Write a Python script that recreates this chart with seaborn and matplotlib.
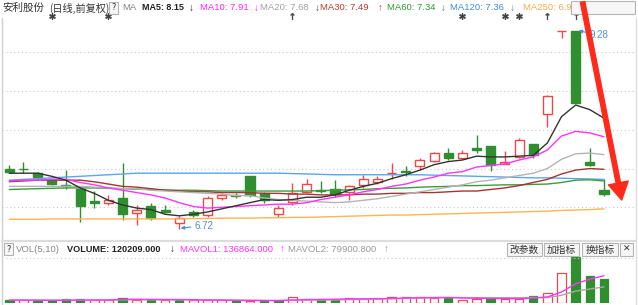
import numpy as np
import pandas as pd
import matplotlib
matplotlib.use("Agg")
import matplotlib.pyplot as plt
import seaborn as sns
from matplotlib.patches import FancyArrowPatch, Rectangle
from matplotlib.lines import Line2D

# ---------------- data ----------------
opens = [7.49, 7.495, 7.447, 7.36, 7.29, 7.23, 7.08, 7.05, 7.12, 6.92,
         7.02, 6.96, 6.80, 6.94, 6.90, 7.12, 7.16, 7.40, 7.18, 6.91,
         7.07, 7.20, 7.22, 7.23, 7.20, 7.29, 7.33, 7.44, 7.47, 7.53,
         7.60, 7.70, 7.63, 7.77, 7.79, 7.56, 7.65, 7.82, 8.21, 9.28,
         9.28, 7.58, 7.22]
closes = [7.455, 7.49, 7.395, 7.30, 7.27, 7.02, 7.06, 7.094, 6.91, 6.97,
          6.86, 6.94, 6.86, 6.90, 7.12, 7.16, 7.145, 7.16, 7.094, 6.99,
          7.18, 7.30, 7.21, 7.17, 7.28, 7.37, 7.37, 7.445, 7.46, 7.61,
          7.70, 7.63, 7.70, 7.74, 7.54, 7.59, 7.87, 7.67, 8.44, 9.28,
          8.35, 7.55, 7.17]
highs = [7.55, 7.59, 7.46, 7.37, 7.48, 7.23, 7.21, 7.16, 7.57, 7.03,
         7.05, 7.03, 6.89, 6.97, 7.15, 7.19, 7.19, 7.40, 7.20, 7.03,
         7.31, 7.36, 7.34, 7.35, 7.29, 7.42, 7.41, 7.57, 7.53, 7.63,
         7.72, 7.76, 7.74, 7.93, 7.79, 7.73, 7.90, 7.82, 8.455, 9.28,
         9.28, 7.77, 7.37]
lows = [7.44, 7.44, 7.39, 7.29, 7.23, 6.81, 6.99, 7.03, 6.84, 6.77,
        6.84, 6.92, 6.72, 6.88, 6.88, 7.10, 7.12, 7.13, 7.06, 6.87,
        7.03, 7.19, 7.19, 7.13, 7.09, 7.25, 7.30, 7.37, 7.40, 7.48,
        7.58, 7.61, 7.62, 7.70, 7.47, 7.555, 7.64, 7.64, 8.04, 9.18,
        8.35, 7.53, 7.14]

ma5 = [7.44, 7.44, 7.44, 7.40, 7.35, 7.25, 7.18, 7.09, 7.03, 6.99,
       6.97, 6.91, 6.89, 6.91, 6.94, 6.98, 7.02, 7.06, 7.10, 7.09,
       7.10, 7.13, 7.13, 7.16, 7.22, 7.27, 7.31, 7.37, 7.42, 7.48,
       7.55, 7.59, 7.61, 7.66, 7.65, 7.65, 7.66, 7.67, 7.83, 8.17,
       8.32, 8.26, 8.15]
ma10 = [7.34, 7.35, 7.35, 7.36, 7.36, 7.32, 7.29, 7.25, 7.22, 7.19,
        7.16, 7.12, 7.06, 7.01, 6.99, 7.00, 7.01, 7.02, 7.03, 7.04,
        7.04, 7.06, 7.10, 7.13, 7.16, 7.20, 7.23, 7.27, 7.30, 7.35,
        7.39, 7.44, 7.46, 7.52, 7.54, 7.56, 7.61, 7.65, 7.74, 7.92,
        7.98, 7.96, 7.91]
ma20 = [7.27, 7.27, 7.27, 7.27, 7.27, 7.27, 7.26, 7.25, 7.24, 7.24,
        7.22, 7.21, 7.20, 7.19, 7.18, 7.17, 7.15, 7.15, 7.12, 7.10,
        7.09, 7.08, 7.07, 7.06, 7.07, 7.09, 7.11, 7.14, 7.17, 7.20,
        7.23, 7.26, 7.29, 7.33, 7.35, 7.38, 7.41, 7.44, 7.50, 7.62,
        7.69, 7.70, 7.68]
ma30 = [7.33, 7.34, 7.35, 7.35, 7.35, 7.35, 7.33, 7.30, 7.27, 7.26,
        7.24, 7.22, 7.21, 7.20, 7.20, 7.19, 7.19, 7.19, 7.18, 7.18,
        7.17, 7.17, 7.16, 7.16, 7.16, 7.17, 7.17, 7.18, 7.18, 7.19,
        7.19, 7.20, 7.21, 7.21, 7.23, 7.25, 7.28, 7.32, 7.36, 7.43,
        7.48, 7.50, 7.49]
ma60 = [7.23, 7.235, 7.24, 7.245, 7.25, 7.25, 7.25, 7.245, 7.24, 7.235,
        7.23, 7.225, 7.22, 7.22, 7.215, 7.21, 7.21, 7.21, 7.21, 7.21,
        7.21, 7.21, 7.215, 7.22, 7.225, 7.23, 7.24, 7.245, 7.25, 7.26,
        7.265, 7.27, 7.28, 7.28, 7.285, 7.29, 7.29, 7.295, 7.30, 7.32,
        7.35, 7.355, 7.34]
ma120 = [7.35, 7.36, 7.37, 7.38, 7.39, 7.40, 7.41, 7.42, 7.43, 7.44,
         7.44, 7.44, 7.44, 7.44, 7.44, 7.44, 7.44, 7.44, 7.44, 7.44,
         7.435, 7.43, 7.425, 7.42, 7.42, 7.42, 7.42, 7.42, 7.42, 7.42,
         7.415, 7.41, 7.405, 7.40, 7.395, 7.39, 7.385, 7.38, 7.38, 7.375,
         7.37, 7.365, 7.36]
ma250 = [6.845, 6.845, 6.845, 6.85, 6.85, 6.85, 6.85, 6.85, 6.85, 6.85,
         6.85, 6.85, 6.85, 6.855, 6.855, 6.86, 6.86, 6.86, 6.865, 6.865,
         6.87, 6.87, 6.875, 6.88, 6.885, 6.89, 6.895, 6.90, 6.90, 6.905,
         6.91, 6.915, 6.92, 6.925, 6.93, 6.935, 6.94, 6.945, 6.95, 6.96,
         6.965, 6.97, 6.98]

volume = [12000, 12000, 10000, 10000, 17000, 17000, 13500, 13500, 25000, 13500,
          13500, 15000, 13500, 12000, 12000, 12000, 10000, 10000, 10000, 10000,
          28000, 20000, 15000, 14000, 22000, 19000, 24000, 27000, 27000, 29000,
          24000, 25000, 15000, 20000, 24000, 20000, 20000, 33000, 48000, 150000,
          230000, 134000, 120209]
vol_up = [False, True, False, False, False, False, True, True, False, True,
          False, True, False, True, True, True, False, True, False, False,
          True, True, False, False, True, True, True, True, True, True,
          True, False, True, True, False, True, True, False, True, True,
          False, False, False]
mavol5 = [13000, 13000, 12500, 12000, 12200, 13200, 13500, 14200, 17200, 17300,
          16500, 16000, 16100, 15500, 13300, 12900, 11900, 11200, 10800, 10400,
          13600, 15600, 16600, 17400, 19800, 19800, 19800, 21200, 23800, 25200,
          26200, 26400, 24000, 22600, 21600, 20800, 19800, 23400, 29000, 54200,
          96200, 119000, 136864]
mavol10 = [13500, 13500, 13200, 12800, 12800, 13000, 13000, 13300, 14500, 14800,
           14900, 14400, 14400, 14600, 14500, 14000, 13300, 12600, 11900, 11700,
           12400, 13200, 13500, 14000, 15200, 17000, 18400, 20600, 22100, 23700,
           25100, 26200, 25200, 25700, 25500, 25600, 25500, 26400, 25800, 37900,
           58500, 69400, 79900.8]

grid_levels = [7.0, 7.5, 8.0, 8.5, 9.0]
star_events = [3, 7, 32, 35, 36]
arrow_events = [20, 38, 40]
hi_idx, hi_val = 40, 9.28
lo_idx, lo_val = 12, 6.72

header_items = [
    ("MA5: 8.15", "↓", "#222222", "#222222", 142, 188.5),
    ("MA10: 7.91", "↓", "#ff22ff", "#ff22ff", 200, 253.5),
    ("MA20: 7.68", "↓", "#a0a0a0", "#444444", 260, 315),
    ("MA30: 7.49", "↑", "#c0392b", "#e02a2a", 320, 378),
    ("MA60: 7.34", "↓", "#2e9a2e", "#2e9a2e", 387, 441),
    ("MA120: 7.36", "↓", "#3a8ee6", "#3a8ee6", 450, 510),
]

# ---------------- style ----------------
sns.set_style("white")
CJK = ["Noto Sans CJK SC", "DejaVu Sans"]
LAT = ["Liberation Sans", "DejaVu Sans"]
plt.rcParams["font.family"] = CJK

W, H = 638, 305
fig = plt.figure(figsize=(W / 100, H / 100), dpi=100)
fig.patch.set_facecolor("white")


def fx(px):
    return px / W


def fy(py):
    return 1 - py / H


RED = "#f04848"
GREEN = "#2f8f2f"
LINE_COLORS = {"ma5": "#333333", "ma10": "#ff33ff", "ma20": "#b4b4b4",
               "ma30": "#a83232", "ma60": "#3c9c3c", "ma120": "#5aa5ee",
               "ma250": "#ffb450"}

N = len(closes)
idx = np.arange(N)
df = pd.DataFrame({"i": idx, "open": opens, "close": closes, "high": highs,
                   "low": lows, "ma5": ma5, "ma10": ma10, "ma20": ma20,
                   "ma30": ma30, "ma60": ma60, "ma120": ma120, "ma250": ma250,
                   "vol": volume, "vol_up": vol_up, "mavol5": mavol5,
                   "mavol10": mavol10})

# ---------------- main price axes ----------------
ax = fig.add_axes([fx(2), fy(241), fx(636) - fx(2), fy(18) - fy(241)])
ax.set_xlim(-0.516, 44.26)
ax.set_ylim(6.565, 9.443)
ax.set_facecolor("white")
for s in ax.spines.values():
    s.set_visible(False)
ax.set_xticks([])
ax.set_yticks([])
for g in grid_levels:
    ax.axhline(g, color="#c8c8c8", lw=0.8, ls=(0, (1, 2.5)), zorder=0)

up = df["close"] >= df["open"]
ccol = [RED if u else GREEN for u in up]
ax.vlines(df["i"], df["low"], df["high"], colors=ccol, lw=1.0, zorder=2)
body_lo = np.minimum(df["open"], df["close"])
body_h = (df["close"] - df["open"]).abs()
ax.bar(df["i"], body_h, bottom=body_lo, width=0.64,
       color=["white" if u else GREEN for u in up], edgecolor=ccol,
       linewidth=1.0, zorder=3)

for name in ["ma250", "ma120", "ma60", "ma30", "ma20", "ma10", "ma5"]:
    sns.lineplot(data=df, x="i", y=name, ax=ax, color=LINE_COLORS[name],
                 linewidth=1.0, zorder=4, legend=False)
ax.set_xlabel("")
ax.set_ylabel("")

# high / low labels
ax.annotate(f"{hi_val:.2f}", xy=(hi_idx + 0.2, hi_val), xytext=(hi_idx + 0.95, hi_val - 0.06),
            color="#4a90d9", fontsize=7, family=LAT, va="center", ha="left",
            arrowprops=dict(arrowstyle="-|>", color="#4a90d9", lw=0.8,
                            mutation_scale=5, shrinkA=0, shrinkB=0), zorder=6)
ax.annotate(f"{lo_val:.2f}", xy=(lo_idx + 0.1, lo_val + 0.01), xytext=(lo_idx + 1.05, lo_val + 0.045),
            color="#4a90d9", fontsize=7, family=LAT, va="center", ha="left",
            arrowprops=dict(arrowstyle="-|>", color="#4a90d9", lw=0.8,
                            mutation_scale=5, shrinkA=0, shrinkB=0), zorder=6)

# event markers above the chart
ev_y = (241 - 15.5) / 223
ax.scatter(star_events, [ev_y] * len(star_events), transform=ax.get_xaxis_transform(),
           marker=(6, 2, 0), s=16, color="#444444", linewidths=1.0, clip_on=False, zorder=6)
ax.scatter(arrow_events, [ev_y] * len(arrow_events), transform=ax.get_xaxis_transform(),
           marker=r"$\uparrow$", s=22, color="#444444", linewidths=0.4, clip_on=False, zorder=6)

# ---------------- volume axes ----------------
axv = fig.add_axes([fx(2), fy(302.7), fx(636) - fx(2), fy(256.9) - fy(302.7)])
axv.set_xlim(-0.516, 44.26)
axv.set_ylim(0, 232000)
axv.set_facecolor("white")
for s in axv.spines.values():
    s.set_visible(False)
axv.set_xticks([])
axv.set_yticks([])
vcol = [RED if u else GREEN for u in df["vol_up"]]
axv.bar(df["i"], df["vol"], width=0.6,
        color=["white" if u else GREEN for u in df["vol_up"]], edgecolor=vcol,
        linewidth=0.9, zorder=3)
sns.lineplot(data=df, x="i", y="mavol10", ax=axv, color="#a8a8a8", linewidth=1.0,
             zorder=4, legend=False)
sns.lineplot(data=df, x="i", y="mavol5", ax=axv, color="#ff33ff", linewidth=1.0,
             zorder=5, legend=False)
axv.set_xlabel("")
axv.set_ylabel("")

# ---------------- frame lines ----------------
fig.add_artist(Line2D([fx(1.5), fx(1.5)], [fy(18), fy(305)], color="#cfcfcf", lw=1))
fig.add_artist(Line2D([fx(636), fx(636)], [fy(18), fy(305)], color="#dedede", lw=1))
fig.add_artist(Line2D([fx(1.5), fx(636)], [fy(241.3), fy(241.3)], color="#dcdcdc", lw=1.6))
fig.add_artist(Line2D([fx(6), fx(636)], [fy(258), fy(258)], color="#c8c8c8", lw=0.8,
                      ls=(0, (1, 2.5))))


def txt(x, y, s, color="#333333", size=7, family=LAT, weight="normal"):
    fig.text(fx(x), fy(y), s, color=color, fontsize=size, family=family,
             weight=weight, ha="left", va="center")


def button(x0, x1, y0, y1, label, size=7):
    fig.add_artist(Rectangle((fx(x0), fy(y1)), fx(x1) - fx(x0), fy(y0) - fy(y1),
                             transform=fig.transFigure, facecolor="#f6f6f6",
                             edgecolor="#b4b4b4", lw=0.8, zorder=5))
    fig.text(fx((x0 + x1) / 2), fy((y0 + y1) / 2), label, color="#333333",
             fontsize=size, family=CJK, ha="center", va="center", zorder=6)


# ---------------- header ----------------
txt(2, 8, "安利股份", "#333333", 7.6, CJK)
txt(49, 8, "(日线,前复权)", "#333333", 7.3, CJK)
button(109, 118, 2, 14, "?", 6.5)
txt(122, 8, "MA", "#888888", 6.8)
for label, arr, c1, c2, x1, x2 in header_items:
    bold = label.startswith("MA5:")
    txt(x1, 8, label, c1, 6.5 if bold else 6.8, LAT, "bold" if bold else "normal")
    txt(x2, 8, arr, c2, 7, LAT)
fig.text(fx(523), fy(8), "MA250: 6.98", color="#ffa94d", fontsize=6.8, family=LAT,
         ha="left", va="center", zorder=1)
button(571, 635, 1, 14, "", 7)
txt(575, 7.5, "设置均线", "#333333", 7.3, CJK)
txt(624, 7.5, "▾", "#333333", 6.5, ["DejaVu Sans"])

# ---------------- volume header ----------------
button(4, 13, 243, 255, "?", 6.5)
txt(16, 249, "VOL(5,10)", "#888888", 6.8)
txt(67, 249, "VOLUME: 120209.000", "#222222", 6.6, LAT, "bold")
txt(170, 249, "↓", "#222222", 7)
txt(180, 249, "MAVOL1: 136864.000", "#ff33ff", 6.8)
txt(280, 249, "↑", "#ff33ff", 7)
txt(288, 249, "MAVOL2: 79900.800", "#999999", 6.8)
txt(384, 249, "↑", "#999999", 7)
button(507, 542, 243, 256, "改参数")
button(544, 579, 243, 256, "加指标")
button(582, 618, 243, 256, "换指标")
button(620, 633, 243, 256, "✕", 6.5)

# ---------------- red annotation arrow ----------------
arrow = FancyArrowPatch((fx(582.6), fy(2)), (fx(621.7), fy(200)),
                        transform=fig.transFigure,
                        arrowstyle="simple,head_width=1.45,head_length=1.25,tail_width=0.32",
                        mutation_scale=10, color="#ff2a1a", shrinkA=0, shrinkB=0, zorder=10)
fig.add_artist(arrow)

fig.savefig("out.png", dpi=100, facecolor="white")
